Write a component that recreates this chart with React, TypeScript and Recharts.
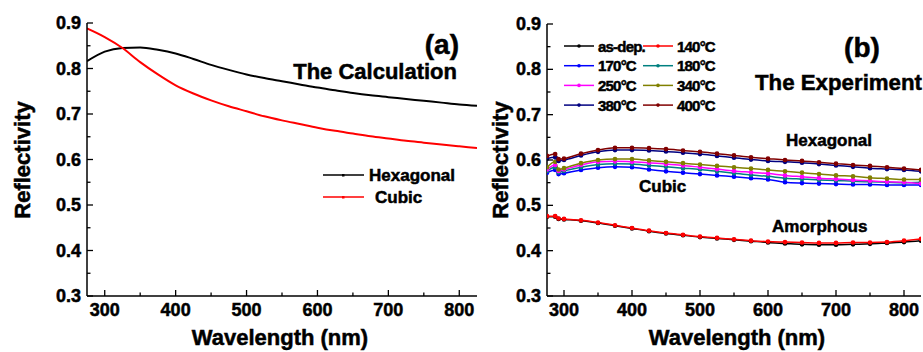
import React from "react";
import { LineChart, Line, XAxis, YAxis } from "recharts";

// panel (a): calculated reflectivity
const calcWavelengths = [275, 300, 325, 350, 375, 400, 425, 450, 475, 500, 525, 550, 575, 600, 625, 650, 675, 700, 725, 750, 775, 800, 825];
const calcHexagonal = [0.816, 0.837, 0.845, 0.846, 0.841, 0.833, 0.821, 0.808, 0.797, 0.787, 0.779, 0.772, 0.765, 0.758, 0.752, 0.746, 0.741, 0.737, 0.733, 0.729, 0.725, 0.721, 0.718];
const calcCubic = [0.888, 0.869, 0.845, 0.814, 0.787, 0.763, 0.745, 0.73, 0.717, 0.706, 0.695, 0.686, 0.678, 0.67, 0.663, 0.657, 0.651, 0.646, 0.641, 0.637, 0.633, 0.629, 0.625];

// panel (b): measured reflectivity
const expWavelengths = [275, 287, 292, 300, 325, 350, 375, 400, 425, 450, 475, 500, 525, 550, 575, 600, 625, 650, 675, 700, 725, 750, 775, 800, 825];
const asDep = [0.475, 0.475, 0.47, 0.469, 0.466, 0.461, 0.455, 0.449, 0.443, 0.438, 0.434, 0.43, 0.427, 0.424, 0.421, 0.418, 0.416, 0.414, 0.413, 0.413, 0.414, 0.415, 0.417, 0.419, 0.422];
const t140 = [0.476, 0.476, 0.471, 0.47, 0.467, 0.462, 0.456, 0.45, 0.444, 0.439, 0.435, 0.431, 0.428, 0.425, 0.422, 0.42, 0.419, 0.418, 0.417, 0.417, 0.418, 0.418, 0.419, 0.422, 0.426];
const t170 = [0.572, 0.578, 0.569, 0.571, 0.578, 0.583, 0.585, 0.584, 0.579, 0.575, 0.572, 0.569, 0.566, 0.563, 0.56, 0.557, 0.551, 0.549, 0.548, 0.547, 0.546, 0.546, 0.545, 0.545, 0.545];
const t180 = [0.576, 0.584, 0.573, 0.576, 0.584, 0.59, 0.592, 0.591, 0.588, 0.585, 0.582, 0.579, 0.575, 0.571, 0.567, 0.564, 0.56, 0.558, 0.556, 0.555, 0.553, 0.552, 0.551, 0.55, 0.551];
const t250 = [0.579, 0.589, 0.576, 0.579, 0.589, 0.596, 0.597, 0.596, 0.594, 0.591, 0.588, 0.584, 0.58, 0.576, 0.573, 0.57, 0.566, 0.563, 0.56, 0.558, 0.556, 0.554, 0.552, 0.551, 0.548];
const t340 = [0.584, 0.596, 0.579, 0.582, 0.593, 0.6, 0.602, 0.602, 0.599, 0.596, 0.593, 0.59, 0.587, 0.584, 0.581, 0.578, 0.575, 0.572, 0.569, 0.566, 0.564, 0.561, 0.559, 0.557, 0.557];
const t380 = [0.603, 0.606, 0.598, 0.6, 0.61, 0.618, 0.622, 0.622, 0.621, 0.619, 0.616, 0.613, 0.609, 0.605, 0.601, 0.598, 0.596, 0.594, 0.591, 0.588, 0.585, 0.582, 0.58, 0.578, 0.575];
const t400 = [0.609, 0.613, 0.602, 0.603, 0.614, 0.622, 0.627, 0.627, 0.626, 0.624, 0.621, 0.618, 0.614, 0.61, 0.606, 0.603, 0.6, 0.598, 0.595, 0.592, 0.589, 0.587, 0.584, 0.581, 0.578];

const xTicks = [300, 350, 400, 450, 500, 550, 600, 650, 700, 750, 800];
const yTicks = [0.3, 0.35, 0.4, 0.45, 0.5, 0.55, 0.6, 0.65, 0.7, 0.75, 0.8, 0.85, 0.9];

const expSeries = [
  { key: "asDep", name: "as-dep.", color: "#000000", values: asDep },
  { key: "t140", name: "140°C", color: "#ff0000", values: t140 },
  { key: "t170", name: "170°C", color: "#0000ff", values: t170 },
  { key: "t180", name: "180°C", color: "#008080", values: t180 },
  { key: "t250", name: "250°C", color: "#ff00ff", values: t250 },
  { key: "t340", name: "340°C", color: "#808000", values: t340 },
  { key: "t380", name: "380°C", color: "#000080", values: t380 },
  { key: "t400", name: "400°C", color: "#800000", values: t400 },
];

const calcData = calcWavelengths.map((w, i) => ({ w, hex: calcHexagonal[i], cubic: calcCubic[i] }));
const expData = expWavelengths.map((w, i) => {
  const row: any = { w };
  expSeries.forEach((s) => (row[s.key] = s.values[i]));
  return row;
});

const FONT = "'Liberation Sans', Arial, sans-serif";
const isMajorX = (v: number) => Math.abs(v % 100) < 1e-6;
const isMajorY = (v: number) => Math.abs(v * 10 - Math.round(v * 10)) < 1e-6;

// heavy bold text like the original figure
const bold = { fontFamily: FONT, fontWeight: "bold" as const, fill: "#000", stroke: "#000", strokeWidth: 0.5 };

// ticks point inward, labels only on major ticks
const BottomTick = (props: any) => {
  const { x, y, payload } = props;
  const major = isMajorX(payload.value);
  return (
    <g>
      <line x1={x} y1={y} x2={x} y2={y - (major ? 6 : 3.5)} stroke="#000" strokeWidth={1.3} />
      {major && (
        <text x={x} y={y + 14} textAnchor="middle" dominantBaseline="central" {...bold} fontSize={18}>
          {payload.value}
        </text>
      )}
    </g>
  );
};

const TopTick = (props: any) => {
  const { x, y, payload } = props;
  const major = isMajorX(payload.value);
  return <line x1={x} y1={y} x2={x} y2={y + (major ? 6 : 3.5)} stroke="#000" strokeWidth={1.3} />;
};

const LeftTick = (props: any) => {
  const { x, y, payload } = props;
  const major = isMajorY(payload.value);
  return (
    <g>
      <line x1={x} y1={y} x2={x + (major ? 6 : 3.5)} y2={y} stroke="#000" strokeWidth={1.3} />
      {major && (
        <text x={x - 6} y={y} textAnchor="end" dominantBaseline="central" {...bold} fontSize={18}>
          {payload.value.toFixed(1)}
        </text>
      )}
    </g>
  );
};

const RightTick = (props: any) => {
  const { x, y, payload } = props;
  const major = isMajorY(payload.value);
  return <line x1={x} y1={y} x2={x - (major ? 6 : 3.5)} y2={y} stroke="#000" strokeWidth={1.3} />;
};

const axisLine = { stroke: "#000", strokeWidth: 1.5 };

const Frame = () => [
  <XAxis key="xb" xAxisId="b" dataKey="w" type="number" domain={[275, 825]} allowDataOverflow ticks={xTicks} interval={0} tickSize={0} tickMargin={0} height={56} axisLine={axisLine} tickLine={false} tick={<BottomTick />} />,
  <XAxis key="xt" xAxisId="t" orientation="top" type="number" domain={[275, 825]} allowDataOverflow ticks={xTicks} interval={0} tickSize={0} tickMargin={0} height={0} axisLine={axisLine} tickLine={false} tick={<TopTick />} />,
  <YAxis key="yl" yAxisId="l" type="number" domain={[0.3, 0.9]} allowDataOverflow ticks={yTicks} interval={0} tickSize={0} tickMargin={0} width={87} axisLine={axisLine} tickLine={false} tick={<LeftTick />} />,
  <YAxis key="yr" yAxisId="r" orientation="right" type="number" domain={[0.3, 0.9]} allowDataOverflow ticks={yTicks} interval={0} tickSize={0} tickMargin={0} width={0} axisLine={axisLine} tickLine={false} tick={<RightTick />} />,
];

export default function App() {
  return (
    <div style={{ position: "absolute", left: 0, top: 0, width: 923, height: 352, background: "#fff", overflow: "hidden" }}>
      <div style={{ position: "absolute", left: 0, top: 0 }}>
        <LineChart width={480} height={352} data={calcData} margin={{ top: 23, right: 3, bottom: 0, left: 0 }}>
          {Frame()}
          <Line xAxisId="b" yAxisId="l" type="monotone" dataKey="hex" stroke="#000" strokeWidth={2} dot={false} isAnimationActive={false} />
          <Line xAxisId="b" yAxisId="l" type="monotone" dataKey="cubic" stroke="#ff0000" strokeWidth={2} dot={false} isAnimationActive={false} />
        </LineChart>
      </div>
      <div style={{ position: "absolute", left: 460, top: 0 }}>
        <LineChart width={463} height={352} data={expData} margin={{ top: 24, right: 2, bottom: 0, left: 0 }}>
          {Frame()}
          {expSeries.map((s) => (
            <Line key={s.key} xAxisId="b" yAxisId="l" type="monotone" dataKey={s.key} stroke={s.color} strokeWidth={1.5} dot={{ r: 1.6, fill: s.color, stroke: s.color }} isAnimationActive={false} />
          ))}
        </LineChart>
      </div>
      <svg width={923} height={352} style={{ position: "absolute", left: 0, top: 0, pointerEvents: "none" }}>
        {/* panel (a) annotations */}
        <text x={22} y={160} {...bold} fontSize={22} textAnchor="middle" dominantBaseline="central" transform="rotate(-90 22 160)">Reflectivity</text>
        <text x={280} y={337} {...bold} fontSize={22} textAnchor="middle" dominantBaseline="central">Wavelength (nm)</text>
        <text x={459} y={44} {...bold} fontSize={28} textAnchor="end" dominantBaseline="central">(a)</text>
        <text x={457} y={71} {...bold} fontSize={22} textAnchor="end" dominantBaseline="central">The Calculation</text>
        <line x1={323} y1={175} x2={364} y2={175} stroke="#000" strokeWidth={1.5} />
        <rect x={342} y={174} width={2.5} height={2.5} fill="#000" />
        <text x={369} y={175} {...bold} fontSize={17} dominantBaseline="central">Hexagonal</text>
        <line x1={323} y1={197} x2={364} y2={197} stroke="#ff0000" strokeWidth={1.5} />
        <rect x={342} y={196} width={2.5} height={2.5} fill="#ff0000" />
        <text x={375} y={197} {...bold} fontSize={17} dominantBaseline="central">Cubic</text>

        {/* panel (b) annotations */}
        <text x={500} y={160} {...bold} fontSize={22} textAnchor="middle" dominantBaseline="central" transform="rotate(-90 500 160)">Reflectivity</text>
        <text x={737} y={337} {...bold} fontSize={22} textAnchor="middle" dominantBaseline="central">Wavelength (nm)</text>
        <text x={862} y={47} {...bold} fontSize={28} textAnchor="middle" dominantBaseline="central">(b)</text>
        <text x={755} y={82} {...bold} fontSize={22} dominantBaseline="central" textLength={167} lengthAdjust="spacingAndGlyphs">The Experiment</text>
        {expSeries.map((s, i) => {
          const col = i % 2;
          const row = Math.floor(i / 2);
          const lx = col === 0 ? 564 : 643;
          const y = 46 + row * 19.7;
          return (
            <g key={s.key}>
              <line x1={lx} y1={y} x2={lx + 30} y2={y} stroke={s.color} strokeWidth={1.5} />
              <circle cx={lx + 15} cy={y} r={1.8} fill={s.color} />
              <text x={lx + 34} y={y} {...bold} fontSize={15} letterSpacing={-0.8} dominantBaseline="central">{s.name}</text>
            </g>
          );
        })}
        <text x={786} y={140} {...bold} fontSize={17} dominantBaseline="central">Hexagonal</text>
        <text x={639} y={186} {...bold} fontSize={17} dominantBaseline="central">Cubic</text>
        <text x={772} y={226} {...bold} fontSize={17} dominantBaseline="central">Amorphous</text>
      </svg>
    </div>
  );
}
